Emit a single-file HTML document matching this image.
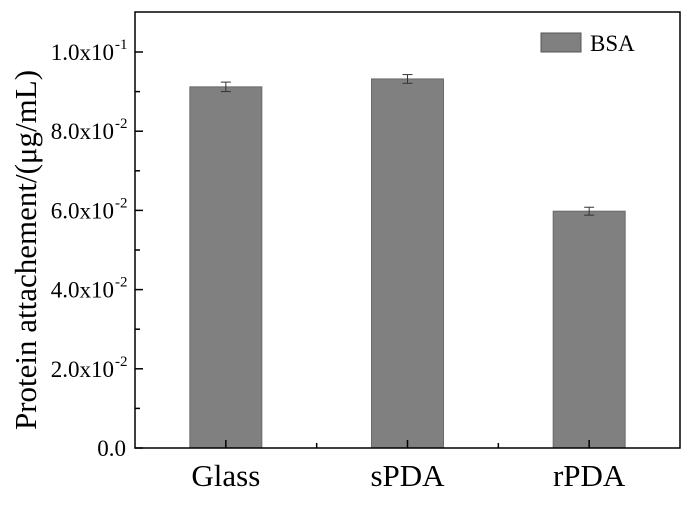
<!DOCTYPE html>
<html><head><meta charset="utf-8"><style>body{margin:0;background:#fff}svg{font-family:"Liberation Serif",serif}</style></head>
<body>
<svg id="chart" width="700" height="500"></svg>
<script>
const categories=["Glass","sPDA","rPDA"];
const values=[0.0912,0.0932,0.0598];
const errors=[0.0012,0.0011,0.0010];
const yTicks=[0,0.02,0.04,0.06,0.08,0.1];
const yTickLabels=["0.0","2.0x10","4.0x10","6.0x10","8.0x10","1.0x10"];
const yTickExp=["","-2","-2","-2","-2","-1"];
const NS="http://www.w3.org/2000/svg";
const svg=document.getElementById('chart');
const L=135,R=680,T=12,B=448;
const y=v=>B-v/0.1*396;
const step=(R-L)/3;
const x=i=>L+step*(i+0.5);
const bw=72;
function mk(t,a,p){const e=document.createElementNS(NS,t);for(const k in a)e.setAttribute(k,a[k]);(p||svg).appendChild(e);return e;}
categories.forEach((c,i)=>{
 const b=mk('rect',{x:x(i)-bw/2,y:y(values[i]),width:bw,height:B-y(values[i]),fill:'#808080',stroke:'#6a6a6a','stroke-width':1});
 
 
 const g=mk('g',{stroke:'#333','stroke-width':1});
 
 
 const y1=y(values[i]+errors[i]),y2=y(values[i]-errors[i]);
 mk('line',{x1:x(i),x2:x(i),y1:y1,y2:y2},g);
 mk('line',{x1:x(i)-5,x2:x(i)+5,y1:y1,y2:y1},g);
 mk('line',{x1:x(i)-5,x2:x(i)+5,y1:y2,y2:y2},g);
 mk('line',{x1:x(i),x2:x(i),y1:B,y2:B-8,stroke:'#000','stroke-width':1.5});
 if(i<2)mk('line',{x1:L+step*(i+1),x2:L+step*(i+1),y1:B,y2:B-5,stroke:'#000','stroke-width':1.5});
 const t=mk('text',{x:x(i),y:B+38,'text-anchor':'middle','font-size':31});
 t.textContent=c;
 
 
});
yTicks.forEach((v,i)=>{
 mk('line',{x1:L,x2:L+8,y1:y(v),y2:y(v),stroke:'#000','stroke-width':1.5});
 if(i<yTicks.length-1)mk('line',{x1:L,x2:L+5,y1:y(v+0.01),y2:y(v+0.01),stroke:'#000','stroke-width':1.5});
 const t=mk('text',{x:yTickExp[i]?114:126,y:y(v)+8,'text-anchor':'end','font-size':23});
 t.textContent=yTickLabels[i];
 
 
 if(yTickExp[i]){const s=mk('text',{x:115,y:y(v)-3,'font-size':15});s.textContent=yTickExp[i];}
});
const fr=mk('rect',{x:L,y:T,width:R-L,height:B-T,fill:'none',stroke:'#000','stroke-width':1.5});


const yl=mk('text',{transform:'translate(36,250) rotate(-90)','text-anchor':'middle','font-size':31});
yl.textContent='Protein attachement/(μg/mL)';


const lg=mk('g',{});


mk('rect',{x:541,y:33,width:40,height:19,fill:'#808080',stroke:'#555'},lg);
const lt=mk('text',{x:590,y:51,'font-size':23},lg);lt.textContent='BSA';
</script>
</body></html>
